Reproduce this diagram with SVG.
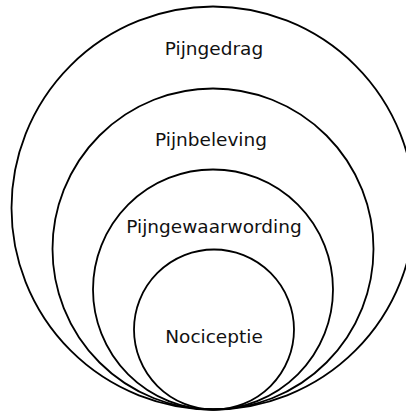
<svg xmlns="http://www.w3.org/2000/svg" width="406" height="412" viewBox="0 0 406 412">
<style>
.ring{fill:none;stroke:#000;stroke-width:1.8}
.lbl{font-family:"DejaVu Sans",Verdana,sans-serif;font-size:18.5px;fill:#111;text-anchor:middle}
</style>
<rect width="406" height="412" fill="#fff"/>
<g id="pijngedrag">
<circle class="ring" cx="213" cy="208" r="201.5"/>
<text class="lbl" x="214" y="55">Pijngedrag</text>
</g>
<g id="pijnbeleving">
<circle class="ring" cx="213" cy="249" r="160.5"/>
<text class="lbl" x="211" y="146">Pijnbeleving</text>
</g>
<g id="pijngewaarwording">
<circle class="ring" cx="213" cy="289.5" r="120"/>
<text class="lbl" x="214" y="233">Pijngewaarwording</text>
</g>
<g id="nociceptie">
<circle class="ring" cx="214" cy="329.5" r="80"/>
<text class="lbl" x="214" y="343">Nociceptie</text>
</g>
<g id="connectors"></g>
</svg>
